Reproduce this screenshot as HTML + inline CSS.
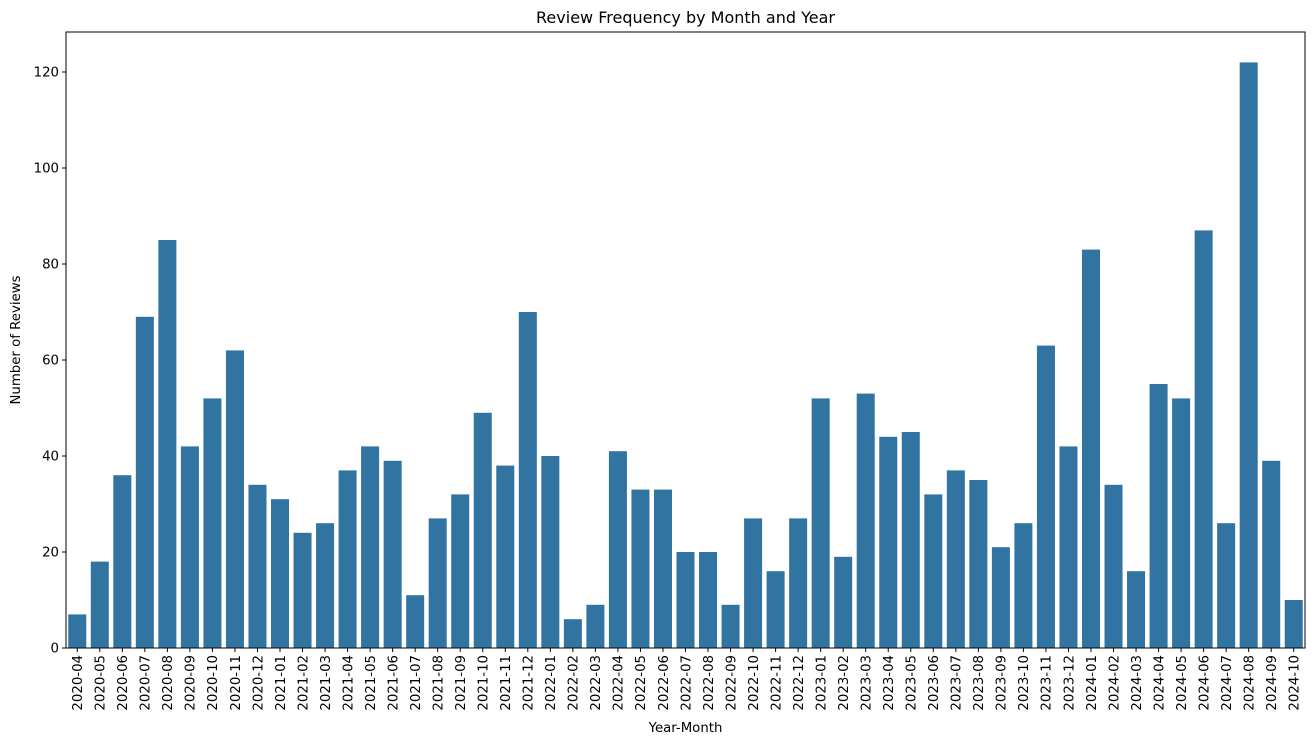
<!DOCTYPE html>
<html><head><meta charset="utf-8"><style>
body{margin:0;background:#fff;}
svg text{font-family:"DejaVu Sans","Liberation Sans",sans-serif;fill:#000;}
</style></head><body>
<svg id="chart" width="1315" height="745"></svg>
<script>
const categories=["2020-04","2020-05","2020-06","2020-07","2020-08","2020-09","2020-10","2020-11","2020-12","2021-01","2021-02","2021-03","2021-04","2021-05","2021-06","2021-07","2021-08","2021-09","2021-10","2021-11","2021-12","2022-01","2022-02","2022-03","2022-04","2022-05","2022-06","2022-07","2022-08","2022-09","2022-10","2022-11","2022-12","2023-01","2023-02","2023-03","2023-04","2023-05","2023-06","2023-07","2023-08","2023-09","2023-10","2023-11","2023-12","2024-01","2024-02","2024-03","2024-04","2024-05","2024-06","2024-07","2024-08","2024-09","2024-10"];
const reviewCounts=[7,18,36,69,85,42,52,62,34,31,24,26,37,42,39,11,27,32,49,38,70,40,6,9,41,33,33,20,20,9,27,16,27,52,19,53,44,45,32,37,35,21,26,63,42,83,34,16,55,52,87,26,122,39,10];
const yTicks=[0,20,40,60,80,100,120];
const NS="http://www.w3.org/2000/svg";
const svg=document.getElementById('chart');
const L=66,R=1305,T=32,B=648,yMax=128.33;
const band=(R-L)/categories.length;
const x=i=>L+i*band;
const y=v=>B-(v/yMax)*(B-T);
function mk(tag,attrs,parent){const e=document.createElementNS(NS,tag);for(const k in attrs)e.setAttribute(k,attrs[k]);(parent||svg).appendChild(e);return e;}
reviewCounts.forEach((v,i)=>{
  const r=mk('rect',{x:x(i)+band*0.1,y:y(v),width:band*0.8,height:B-y(v),fill:'#3274a1'});
  
  
});
categories.forEach((c,i)=>{
  const cx=x(i)+band/2;
  const t=mk('line',{x1:cx,x2:cx,y1:B,y2:B+4,stroke:'#000','stroke-width':1});
  
  
  const lb=mk('text',{x:0,y:0,'font-size':13.3,'text-anchor':'end',transform:`translate(${cx+4.8},${B+7}) rotate(-90)`});
  lb.textContent=c;
  
  
});
yTicks.forEach(v=>{
  const t=mk('line',{x1:L-4,x2:L,y1:y(v),y2:y(v),stroke:'#000','stroke-width':1});
  
  
  const lb=mk('text',{x:L-7,y:y(v)+4.5,'font-size':13.3,'text-anchor':'end'});
  lb.textContent=v;
  
  
});
const frame=mk('rect',{x:L,y:T,width:R-L,height:B-T,fill:'none',stroke:'#000','stroke-width':1});


const title=mk('text',{x:(L+R)/2,y:23,'font-size':16,'text-anchor':'middle'});
title.textContent='Review Frequency by Month and Year';


const xl=mk('text',{x:(L+R)/2,y:732,'font-size':13.3,'text-anchor':'middle'});
xl.textContent='Year-Month';


const yl=mk('text',{x:0,y:0,'font-size':13.3,'text-anchor':'middle',transform:`translate(20,${(T+B)/2}) rotate(-90)`});
yl.textContent='Number of Reviews';


</script>
</body></html>
